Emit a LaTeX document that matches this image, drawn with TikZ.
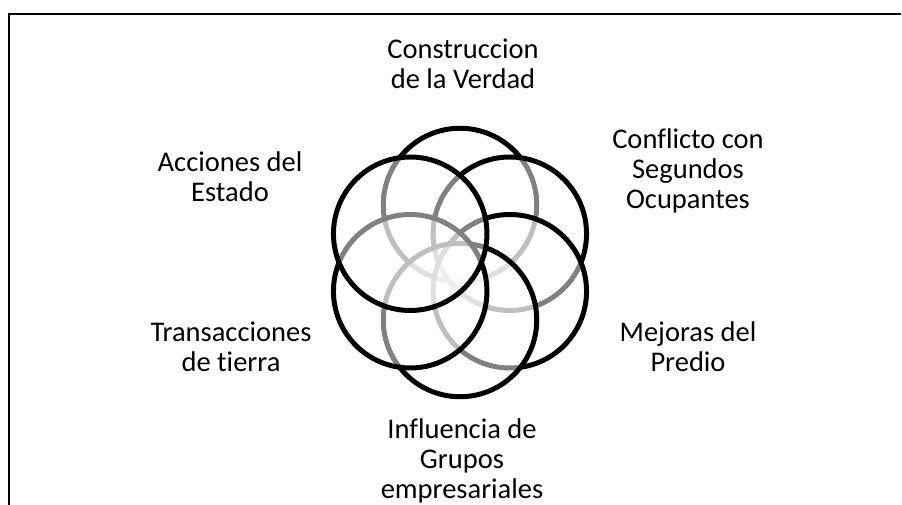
\documentclass[tikz,border=0pt]{standalone}
\usepackage{fontspec}
\setmainfont[Ligatures=NoCommon]{Carlito}
\begin{document}
\begin{tikzpicture}[x=1pt,y=1pt,
    ring/.style={line width=5pt,draw=black,fill=white,fill opacity=0.5},
    tag/.style={align=center,inner sep=0pt,anchor=base,font=\fontsize{28.5}{30}\selectfont}]
    \useasboundingbox (0,0) rectangle (902,505);
    \draw[line width=1.6pt] (9,0) -- (9,491) -- (901,491);
    \coordinate (hub) at (460,242.5);
    % six rings, later ones wash out the earlier outlines
    \foreach \a in {90,30,-30,-90,-150,150}
    {
      \draw[ring] (hub) ++(\a:57.5) circle (76.75);
    }
    \node[tag] (verdad) at (463,416.7) {Construccion\\de la Verdad};
    \node[tag] (conflicto) at (688,296.7) {Conflicto con\\Segundos\\Ocupantes};
    \node[tag] (mejoras) at (688,133.4) {Mejoras del\\Predio};
    \node[tag] (grupos) at (462,6.5) {Influencia de\\Grupos\\empresariales};
    \node[tag] (tierra) at (231,133.4) {Transacciones\\de tierra};
    \node[tag] (estado) at (230,303.4) {Acciones del\\Estado};
\end{tikzpicture}
\end{document}
